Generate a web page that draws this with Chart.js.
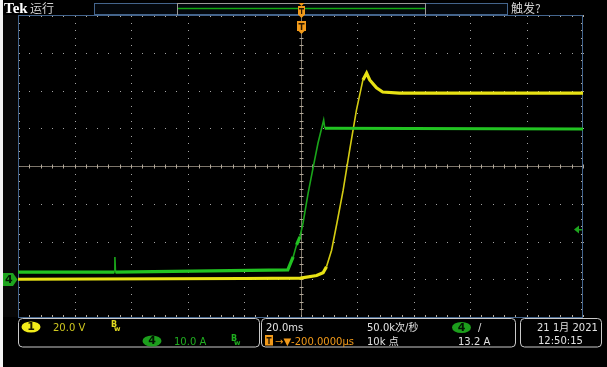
<!DOCTYPE html>
<html>
<head>
<meta charset="utf-8">
<script src="https://cdn.jsdelivr.net/npm/chart.js@4.4.1/dist/chart.umd.min.js"></script>
<style>
  body { margin: 0; background: #000; }
  #scope { display: block; }
</style>
</head>
<body>
<canvas id="scope" width="607" height="367"></canvas>
<script>
// horizontal: 20 ms/div, 10 divisions
var timeRange = [-100, 100];
// CH1 (yellow) 20 V/div, CH4 (green) 10 A/div, both grounds 3 div below centre
var voltRange = [-20, 140];
var ampRange = [-10, 70];

var ch1Time = [-100, -20, 0, 5.7, 8.0, 9.2, 11.0, 12.9, 15.1, 17.4, 19.8, 22.1, 23.4, 24.5, 26.9, 29.1, 35, 100];
var ch1Volts = [0, 0.4, 0.6, 2, 3.4, 6.6, 15.4, 29.8, 47.2, 68.4, 89.6, 105.6, 109.2, 105.6, 101.4, 99.2, 98.6, 98.6];

var ch4Time = [-100, -65.9, -65.7, -65.5, -4.5, -2.6, -1.4, -0.2, 0.9, 2.7, 4.5, 6.2, 8.2, 8.6, 100];
var ch4Amps = [1.9, 1.9, 5.9, 1.9, 2.5, 5.9, 9.1, 11.2, 14.9, 22.8, 29.7, 36.1, 42.2, 40, 39.8];

var triggerLevel = 13.2;

// readout texts
var ch1Label = '20.0 V';
var ch4Label = '10.0 A';
var timebaseLabel = '20.0ms';
var sampleRateLabel = '50.0k次/秒';
var delayLabel = '→▼-200.0000µs';
var recordLabel = '10k 点';
var trigLabel = '13.2 A';
var dateLabel = '21 1月 2021';
var timeLabel = '12:50:15';

function toPoints(xs, ys) {
    var pts = [];
    for (var i = 0; i < xs.length; i++) {
        pts.push({ x: xs[i], y: ys[i] });
    }
    return pts;
}

// fast edges are drawn thin, flat noisy parts thick
function isSteep(seg) {
    return Math.abs(seg.p1.y - seg.p0.y) > 2.5 * Math.abs(seg.p1.x - seg.p0.x);
}

function roundBox(ctx, x, y, w, h, r) {
    ctx.beginPath();
    ctx.moveTo(x + r, y);
    ctx.lineTo(x + w - r, y);
    ctx.quadraticCurveTo(x + w, y, x + w, y + r);
    ctx.lineTo(x + w, y + h - r);
    ctx.quadraticCurveTo(x + w, y + h, x + w - r, y + h);
    ctx.lineTo(x + r, y + h);
    ctx.quadraticCurveTo(x, y + h, x, y + h - r);
    ctx.lineTo(x, y + r);
    ctx.quadraticCurveTo(x, y, x + r, y);
    ctx.closePath();
}

function badge(ctx, cx, cy, rx, ry, fill, label, textColor) {
    ctx.fillStyle = fill;
    ctx.beginPath();
    ctx.ellipse(cx, cy, rx, ry, 0, 0, Math.PI * 2);
    ctx.fill();
    ctx.fillStyle = textColor;
    ctx.font = 'bold 11px "DejaVu Sans"';
    ctx.textAlign = 'center';
    ctx.textBaseline = 'middle';
    ctx.fillText(label, cx, cy + 0.5);
    ctx.textAlign = 'left';
    ctx.textBaseline = 'alphabetic';
}

function bwMark(ctx, x, y, color) {
    ctx.fillStyle = color;
    ctx.font = 'bold 8px "DejaVu Sans"';
    ctx.fillText('B', x, y - 1);
    ctx.font = 'bold 7px "DejaVu Sans"';
    ctx.fillText('w', x + 3, y + 3);
}

var scopeScreen = {
    id: 'scopeScreen',
    beforeDraw: function (chart) {
        var ctx = chart.ctx;
        ctx.save();
        ctx.fillStyle = '#000';
        ctx.fillRect(0, 0, chart.width, chart.height);
        ctx.fillStyle = '#f4f4f4';
        ctx.fillRect(0, 0, 3, chart.height);
        ctx.fillStyle = '#070707';
        ctx.fillRect(3, 15, 15, 302);
        ctx.restore();
    },
    beforeDatasetsDraw: function (chart) {
        var ctx = chart.ctx;
        var a = chart.chartArea;
        var xs = chart.scales.x;
        var ys = chart.scales.yV;
        ctx.save();

        // dotted graticule
        ctx.fillStyle = 'rgba(205,205,205,0.8)';
        for (var t = -80; t <= 80; t += 20) {
            if (t === 0) continue;
            var px = Math.round(xs.getPixelForValue(t));
            for (var v = -20; v <= 140; v += 4) {
                ctx.fillRect(px, Math.round(ys.getPixelForValue(v)), 1, 1);
            }
        }
        for (var v2 = 0; v2 <= 120; v2 += 20) {
            if (v2 === 60) continue;
            var py = Math.round(ys.getPixelForValue(v2));
            for (var t2 = -100; t2 <= 100; t2 += 4) {
                ctx.fillRect(Math.round(xs.getPixelForValue(t2)), py, 1, 1);
            }
        }

        // centre cross with ticks
        var cx = Math.round(xs.getPixelForValue(0)) + 0.5;
        var cy = Math.round(ys.getPixelForValue(60)) + 0.5;
        ctx.strokeStyle = '#7e766b';
        ctx.lineWidth = 1;
        ctx.beginPath();
        ctx.moveTo(a.left, cy); ctx.lineTo(a.right, cy);
        ctx.moveTo(cx, a.top); ctx.lineTo(cx, a.bottom);
        ctx.stroke();
        ctx.strokeStyle = '#b5ab9c';
        ctx.beginPath();
        for (var t3 = -100; t3 <= 100; t3 += 4) {
            var tx = Math.round(xs.getPixelForValue(t3)) + 0.5;
            ctx.moveTo(tx, cy - 2); ctx.lineTo(tx, cy + 2);
            ctx.moveTo(tx, a.top); ctx.lineTo(tx, a.top + 2);
            ctx.moveTo(tx, a.bottom - 2); ctx.lineTo(tx, a.bottom);
        }
        for (var v3 = -20; v3 <= 140; v3 += 4) {
            var ty = Math.round(ys.getPixelForValue(v3)) + 0.5;
            ctx.moveTo(cx - 2, ty); ctx.lineTo(cx + 2, ty);
            ctx.moveTo(a.left, ty); ctx.lineTo(a.left + 2, ty);
            ctx.moveTo(a.right - 2, ty); ctx.lineTo(a.right, ty);
        }
        ctx.stroke();

        // frame
        ctx.strokeStyle = '#44658d';
        ctx.strokeRect(Math.round(a.left) + 0.5, Math.round(a.top) + 0.5,
            Math.round(a.right - a.left) - 1, Math.round(a.bottom - a.top));
        ctx.restore();
    },
    afterDraw: function (chart) {
        var ctx = chart.ctx;
        var a = chart.chartArea;
        var xs = chart.scales.x;
        var yA = chart.scales.yA;
        var tx = Math.round(xs.getPixelForValue(0)) + 0.5;
        ctx.save();

        // header
        ctx.fillStyle = '#ffffff';
        ctx.font = 'bold 15px "Liberation Serif"';
        ctx.fillText('Tek', 4, 13);
        ctx.fillStyle = '#d2d2d2';
        ctx.font = '12px "Noto Sans CJK SC"';
        ctx.fillText('运行', 30, 13);
        ctx.fillText('触发?', 511, 13);

        // record view bar
        ctx.fillStyle = '#03070c';
        ctx.fillRect(94, 3, 414, 12);
        ctx.strokeStyle = '#44658d';
        ctx.strokeRect(94.5, 3.5, 413, 11);
        ctx.strokeStyle = '#9a9a9a';
        ctx.beginPath();
        ctx.moveTo(177.5, 3); ctx.lineTo(177.5, 15);
        ctx.moveTo(425.5, 3); ctx.lineTo(425.5, 15);
        ctx.moveTo(177, 3.5); ctx.lineTo(426, 3.5);
        ctx.stroke();
        ctx.strokeStyle = '#13a813';
        ctx.lineWidth = 1.5;
        ctx.beginPath();
        ctx.moveTo(178, 8.5); ctx.lineTo(425, 8.5);
        ctx.stroke();
        ctx.lineWidth = 1;

        // trigger position markers
        ctx.fillStyle = '#f29a1a';
        ctx.beginPath();
        ctx.moveTo(tx - 3, 3); ctx.lineTo(tx + 3, 3); ctx.lineTo(tx, 6); ctx.closePath();
        ctx.fill();
        ctx.fillRect(tx - 3.5, 6, 7, 9);
        ctx.beginPath();
        ctx.moveTo(tx - 3, 15); ctx.lineTo(tx + 3, 15); ctx.lineTo(tx, 18); ctx.closePath();
        ctx.fill();
        ctx.fillRect(tx - 4.5, 21, 9, 10);
        ctx.beginPath();
        ctx.moveTo(tx - 3, 31); ctx.lineTo(tx + 3, 31); ctx.lineTo(tx, 34); ctx.closePath();
        ctx.fill();
        ctx.fillStyle = '#2a1800';
        ctx.fillRect(tx - 2.5, 8, 5, 1.5);
        ctx.fillRect(tx - 0.5, 8, 1.2, 6);
        ctx.fillRect(tx - 3, 23, 6, 1.5);
        ctx.fillRect(tx - 0.7, 23, 1.5, 7);

        // CH4 ground marker on the left
        var gy = Math.round(yA.getPixelForValue(0)) + 0.5;
        ctx.fillStyle = '#1ea51e';
        ctx.beginPath();
        ctx.moveTo(3, gy - 6.5); ctx.lineTo(13, gy - 6.5); ctx.lineTo(17.5, gy);
        ctx.lineTo(13, gy + 6.5); ctx.lineTo(3, gy + 6.5); ctx.closePath();
        ctx.fill();
        ctx.fillStyle = '#031803';
        ctx.font = 'bold 11px "DejaVu Sans"';
        ctx.textBaseline = 'middle';
        ctx.fillText('4', 5, gy + 0.5);
        ctx.textBaseline = 'alphabetic';

        // trigger level arrow on the right
        var ly = Math.round(yA.getPixelForValue(triggerLevel)) + 0.5;
        ctx.fillStyle = '#1ea51e';
        ctx.beginPath();
        ctx.moveTo(a.right - 9, ly); ctx.lineTo(a.right - 4, ly - 4); ctx.lineTo(a.right - 4, ly + 4); ctx.closePath();
        ctx.fill();
        ctx.fillRect(a.right - 5, ly - 0.5, 4, 1.5);

        // readout panels
        ctx.strokeStyle = '#c9c9c9';
        ctx.lineWidth = 1;
        roundBox(ctx, 18.5, 318.5, 241, 28.5, 4); ctx.stroke();
        roundBox(ctx, 261.5, 318.5, 254, 28.5, 4); ctx.stroke();
        roundBox(ctx, 520.5, 318.5, 81, 28.5, 4); ctx.stroke();

        badge(ctx, 31, 327, 9.5, 5.5, '#f2ec1a', '1', '#1a1800');
        ctx.font = '10px "DejaVu Sans"';
        ctx.fillStyle = '#cfc820';
        ctx.fillText(ch1Label, 53, 331);
        bwMark(ctx, 111, 328, '#e0d820');

        badge(ctx, 152, 341, 9.5, 5.5, '#1c9e1c', '4', '#021202');
        ctx.font = '10px "DejaVu Sans"';
        ctx.fillStyle = '#1fae1f';
        ctx.fillText(ch4Label, 174, 345);
        bwMark(ctx, 231, 342, '#1fae1f');

        ctx.font = '10px "DejaVu Sans"';
        ctx.fillStyle = '#e2e2e2';
        ctx.fillText(timebaseLabel, 266, 331);
        ctx.font = '10px "DejaVu Sans", "Noto Sans CJK SC"';
        ctx.fillText(sampleRateLabel, 367, 331);
        ctx.fillText(recordLabel, 367, 345);
        ctx.font = '10px "DejaVu Sans"';
        ctx.fillText(trigLabel, 458, 345);
        ctx.fillText('/', 478, 331);
        badge(ctx, 461.5, 327.5, 9.5, 5.5, '#1c9e1c', '4', '#021202');

        ctx.fillStyle = '#f29a1a';
        ctx.fillRect(265, 335, 8, 10.5);
        ctx.fillStyle = '#2a1800';
        ctx.fillRect(266.5, 337, 5, 1.5);
        ctx.fillRect(268.3, 337, 1.4, 7);
        ctx.fillStyle = '#f29a1a';
        ctx.font = '10px "DejaVu Sans"';
        ctx.fillText(delayLabel, 275, 345);

        ctx.fillStyle = '#e2e2e2';
        ctx.font = '10px "DejaVu Sans", "Noto Sans CJK SC"';
        ctx.fillText(dateLabel, 537, 331);
        ctx.font = '10px "DejaVu Sans"';
        ctx.fillText(timeLabel, 538, 344);
        ctx.restore();
    }
};

var ctx = document.getElementById('scope').getContext('2d');
var scopeChart = new Chart(ctx, {
    type: 'scatter',
    data: {
        datasets: [{
            label: 'CH4',
            data: toPoints(ch4Time, ch4Amps),
            yAxisID: 'yA',
            showLine: true,
            borderColor: '#22c322',
            borderWidth: 3,
            pointRadius: 0,
            tension: 0,
            segment: {
                borderWidth: function (seg) { return isSteep(seg) ? 1.6 : 3.2; },
                borderColor: function (seg) { return isSteep(seg) ? '#1aa51a' : '#22c322'; }
            },
            order: 1
        }, {
            label: 'CH1',
            data: toPoints(ch1Time, ch1Volts),
            yAxisID: 'yV',
            showLine: true,
            borderColor: '#e8e214',
            borderWidth: 3,
            pointRadius: 0,
            tension: 0,
            segment: {
                borderWidth: function (seg) { return isSteep(seg) ? 1.6 : 3.2; },
                borderColor: function (seg) { return isSteep(seg) ? '#d4cc12' : '#e8e214'; }
            },
            order: 2
        }]
    },
    options: {
        responsive: false,
        animation: false,
        layout: {
            padding: { left: 18, top: 15, right: 24, bottom: 50 }
        },
        scales: {
            x: { type: 'linear', min: timeRange[0], max: timeRange[1], display: false },
            yV: { type: 'linear', position: 'left', min: voltRange[0], max: voltRange[1], display: false },
            yA: { type: 'linear', position: 'right', min: ampRange[0], max: ampRange[1], display: false }
        },
        plugins: {
            legend: { display: false },
            tooltip: { enabled: false }
        }
    },
    plugins: [scopeScreen]
});
</script>
</body>
</html>
